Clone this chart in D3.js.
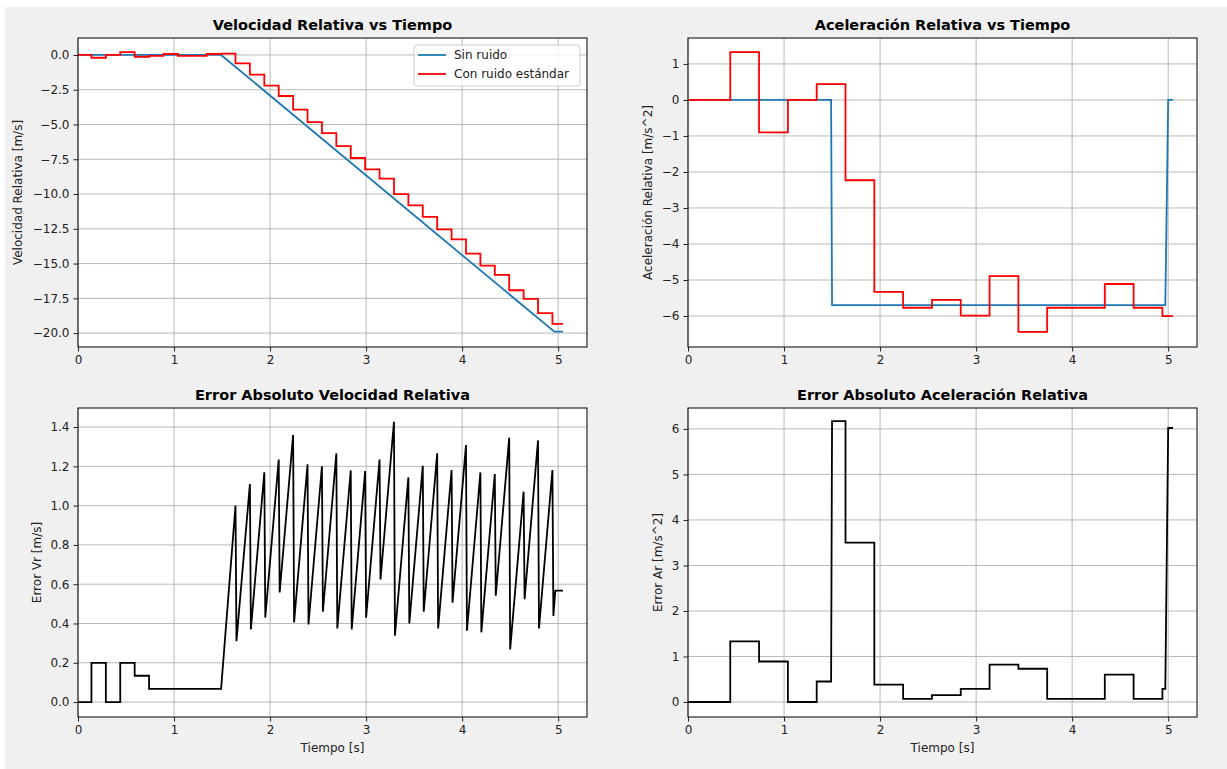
<!DOCTYPE html>
<html>
<head>
<meta charset="utf-8">
<script src="https://cdn.jsdelivr.net/npm/d3@7"></script>
<style>
body { margin: 0; background: #fff; }
svg { font-family: 'DejaVu Sans', sans-serif; }
</style>
</head>
<body>
<div id="chart"></div>
<script>
// tiempo / ticks
const xTicks = [0, 1, 2, 3, 4, 5]
const velTicks = [0, -2.5, -5, -7.5, -10, -12.5, -15, -17.5, -20]
const accTicks = [1, 0, -1, -2, -3, -4, -5, -6]
const errVrTicks = [0, 0.2, 0.4, 0.6, 0.8, 1.0, 1.2, 1.4]
const errArTicks = [0, 1, 2, 3, 4, 5, 6]

// velocidad relativa sin ruido
const tVel = [0, 1.49, 4.96, 5.05]
const vel = [0, 0, -19.9, -19.9]

// velocidad relativa con ruido (escalones)
const tVelRuido = [0, 0.14, 0.29, 0.44, 0.59, 0.74, 0.89, 1.04, 1.34, 1.49, 1.64, 1.79, 1.94, 2.09, 2.24, 2.39,
    2.54, 2.69, 2.84, 2.99, 3.14, 3.29, 3.44, 3.59, 3.74, 3.89, 4.04, 4.19, 4.34, 4.49, 4.64, 4.79, 4.94, 5.05]
const velRuido = [0, -0.2, 0, 0.2, -0.13, -0.07, 0.07, -0.07, 0.07, 0.1, -0.6, -1.41, -2.2, -2.95, -3.93, -4.83,
    -5.62, -6.55, -7.41, -8.22, -8.89, -10.01, -10.82, -11.64, -12.54, -13.26, -14.29, -15.15, -15.82, -16.92, -17.54, -18.57, -19.33, -19.33]

// aceleracion relativa sin ruido
const tAcc = [0, 1.49, 1.50, 4.97, 5.00, 5.05]
const acc = [0, 0, -5.7, -5.7, 0, 0]

// aceleracion relativa con ruido (escalones)
const tAccRuido = [0, 0.44, 0.74, 1.04, 1.34, 1.64, 1.94, 2.24, 2.54, 2.84, 3.14, 3.44, 3.74, 4.34, 4.64, 4.94, 5.05]
const accRuido = [0, 1.33, -0.9, 0, 0.44, -2.23, -5.33, -5.77, -5.55, -5.99, -4.89, -6.44, -5.77, -5.11, -5.77, -6.0, -6.0]

// error absoluto velocidad
const tErrVr = [0, 0.14, 0.14, 0.29, 0.29, 0.44, 0.44, 0.59, 0.59, 0.74, 0.74, 1.49,
    1.64, 1.65, 1.79, 1.80, 1.94, 1.95, 2.09, 2.10, 2.24, 2.25, 2.39, 2.40, 2.54, 2.55, 2.69, 2.70,
    2.84, 2.85, 2.99, 3.00, 3.14, 3.15, 3.29, 3.30, 3.44, 3.45, 3.59, 3.60, 3.74, 3.75, 3.89, 3.90,
    4.04, 4.05, 4.19, 4.20, 4.34, 4.35, 4.49, 4.50, 4.64, 4.65, 4.79, 4.80, 4.94, 4.95, 4.97, 5.05]
const errVr = [0, 0, 0.2, 0.2, 0, 0, 0.2, 0.2, 0.134, 0.134, 0.067, 0.067,
    1.0, 0.31, 1.11, 0.37, 1.17, 0.43, 1.235, 0.558, 1.36, 0.406, 1.21, 0.395, 1.2, 0.46, 1.266, 0.375,
    1.18, 0.37, 1.176, 0.429, 1.235, 0.624, 1.427, 0.338, 1.144, 0.40, 1.203, 0.46, 1.266, 0.375, 1.181, 0.506,
    1.308, 0.363, 1.169, 0.355, 1.161, 0.541, 1.346, 0.268, 1.071, 0.524, 1.332, 0.375, 1.181, 0.438, 0.567, 0.567]

// error absoluto aceleracion
const tErrAr = [0, 0.44, 0.44, 0.74, 0.74, 1.04, 1.04, 1.34, 1.34, 1.49, 1.50, 1.64, 1.64, 1.94, 1.94, 2.24, 2.24,
    2.54, 2.54, 2.84, 2.84, 3.14, 3.14, 3.44, 3.44, 3.74, 3.74, 4.34, 4.34, 4.64, 4.64, 4.94, 4.94, 4.97, 5.00, 5.05]
const errAr = [0, 0, 1.33, 1.33, 0.89, 0.89, 0, 0, 0.45, 0.45, 6.17, 6.17, 3.5, 3.5, 0.38, 0.38, 0.07,
    0.07, 0.15, 0.15, 0.29, 0.29, 0.82, 0.82, 0.73, 0.73, 0.07, 0.07, 0.6, 0.6, 0.07, 0.07, 0.29, 0.29, 6.02, 6.02]

const w = 1227
const h = 769
const pw = 509
const ph = 309

const svg = d3.select('#chart')
    .append('svg')
    .attr('width', w)
    .attr('height', h)

svg.append('rect')
    .attr('x', 5).attr('y', 7)
    .attr('width', w - 5).attr('height', h - 7)
    .attr('fill', '#f0f0f0')

const zip = (ts, vs) => ts.map((t, i) => [t, vs[i]])

function panel(o) {
    const x = d3.scaleLinear().domain([0, 5.3]).range([o.left, o.left + pw])
    const y = d3.scaleLinear().domain(o.ydom).range([o.top + ph, o.top])
    const g = svg.append('g')

    g.append('rect')
        .attr('x', o.left).attr('y', o.top)
        .attr('width', pw).attr('height', ph)
        .attr('fill', '#fff')

    // grid
    g.selectAll('.gx').data(xTicks).enter().append('line')
        .attr('x1', d => x(d)).attr('x2', d => x(d))
        .attr('y1', o.top).attr('y2', o.top + ph)
        .attr('stroke', '#b0b0b0').attr('stroke-width', 0.9)
    g.selectAll('.gy').data(o.yticks).enter().append('line')
        .attr('x1', o.left).attr('x2', o.left + pw)
        .attr('y1', d => y(d)).attr('y2', d => y(d))
        .attr('stroke', '#b0b0b0').attr('stroke-width', 0.9)

    const clipId = 'clip' + o.id
    svg.append('clipPath').attr('id', clipId)
        .append('rect')
        .attr('x', o.left).attr('y', o.top)
        .attr('width', pw).attr('height', ph)

    o.series.forEach(s => {
        const line = d3.line()
            .x(d => x(d[0]))
            .y(d => y(d[1]))
            .curve(s.step ? d3.curveStepAfter : d3.curveLinear)
        g.append('path')
            .attr('d', line(s.data))
            .attr('fill', 'none')
            .attr('stroke', s.color)
            .attr('stroke-width', 1.8)
            .attr('stroke-linejoin', 'miter')
            .attr('clip-path', 'url(#' + clipId + ')')
    })

    g.append('rect')
        .attr('x', o.left).attr('y', o.top)
        .attr('width', pw).attr('height', ph)
        .attr('fill', 'none')
        .attr('stroke', '#000')
        .attr('stroke-width', 1)

    const xAxis = d3.axisBottom(x).tickValues(xTicks).tickFormat(d3.format('d'))
        .tickSize(4.5).tickPadding(4)
    const yAxis = d3.axisLeft(y).tickValues(o.yticks).tickFormat(d3.format(o.fmt))
        .tickSize(4.5).tickPadding(4)

    g.append('g')
        .attr('transform', 'translate(0,' + (o.top + ph) + ')')
        .call(xAxis)
        .call(a => a.select('.domain').remove())
    g.append('g')
        .attr('transform', 'translate(' + o.left + ',0)')
        .call(yAxis)
        .call(a => a.select('.domain').remove())

    g.selectAll('.tick text')
        .attr('font-family', 'DejaVu Sans')
        .attr('font-size', 12)
        .attr('fill', '#222')
    g.selectAll('.tick line').attr('stroke', '#222').attr('stroke-width', 1)

    g.append('text')
        .attr('x', o.left + pw / 2)
        .attr('y', o.top - 8)
        .attr('text-anchor', 'middle')
        .attr('font-size', 14.5)
        .attr('font-weight', 'bold')
        .text(o.title)

    g.append('text')
        .attr('transform', 'translate(' + o.ylabX + ',' + (o.top + ph / 2) + ') rotate(-90)')
        .attr('text-anchor', 'middle')
        .attr('dy', '0.35em')
        .attr('font-size', 12)
        .attr('fill', '#222')
        .text(o.ylabel)

    if (o.xlabel) {
        g.append('text')
            .attr('x', o.left + pw / 2)
            .attr('y', o.top + ph + 35)
            .attr('text-anchor', 'middle')
            .attr('font-size', 12)
            .attr('fill', '#222')
            .text(o.xlabel)
    }
    return { x, y, g }
}

const p1 = panel({
    id: 1, left: 78, top: 38, ydom: [-21.0, 1.22], yticks: velTicks, fmt: '.1f',
    title: 'Velocidad Relativa vs Tiempo', ylabel: 'Velocidad Relativa [m/s]', ylabX: 18,
    series: [
        { data: zip(tVel, vel), color: '#1f77b4' },
        { data: zip(tVelRuido, velRuido), color: '#ff0000', step: true }
    ]
})

panel({
    id: 2, left: 688, top: 38, ydom: [-6.86, 1.72], yticks: accTicks, fmt: 'd',
    title: 'Aceleración Relativa vs Tiempo', ylabel: 'Aceleración Relativa [m/s^2]', ylabX: 648,
    series: [
        { data: zip(tAcc, acc), color: '#1f77b4' },
        { data: zip(tAccRuido, accRuido), color: '#ff0000', step: true }
    ]
})

panel({
    id: 3, left: 78, top: 408, ydom: [-0.076, 1.497], yticks: errVrTicks, fmt: '.1f',
    title: 'Error Absoluto Velocidad Relativa', ylabel: 'Error Vr [m/s]', ylabX: 37, xlabel: 'Tiempo [s]',
    series: [{ data: zip(tErrVr, errVr), color: '#000' }]
})

panel({
    id: 4, left: 688, top: 408, ydom: [-0.33, 6.46], yticks: errArTicks, fmt: 'd',
    title: 'Error Absoluto Aceleración Relativa', ylabel: 'Error Ar [m/s^2]', ylabX: 658, xlabel: 'Tiempo [s]',
    series: [{ data: zip(tErrAr, errAr), color: '#000' }]
})

// leyenda panel 1
const legendItems = ['Sin ruido', 'Con ruido estándar']
const legendColors = ['#1f77b4', '#ff0000']
const lg = svg.append('g').attr('transform', 'translate(414,45)')
lg.append('rect')
    .attr('width', 166).attr('height', 41).attr('rx', 3)
    .attr('fill', '#fff').attr('fill-opacity', 0.8)
    .attr('stroke', '#ccc').attr('stroke-width', 1)
legendItems.forEach((name, i) => {
    lg.append('line')
        .attr('x1', 4).attr('x2', 32)
        .attr('y1', 10 + i * 19).attr('y2', 10 + i * 19)
        .attr('stroke', legendColors[i]).attr('stroke-width', 1.8)
    lg.append('text')
        .attr('x', 40).attr('y', 10 + i * 19)
        .attr('dy', '0.35em')
        .attr('font-size', 12)
        .attr('fill', '#222')
        .text(name)
})
</script>
</body>
</html>
